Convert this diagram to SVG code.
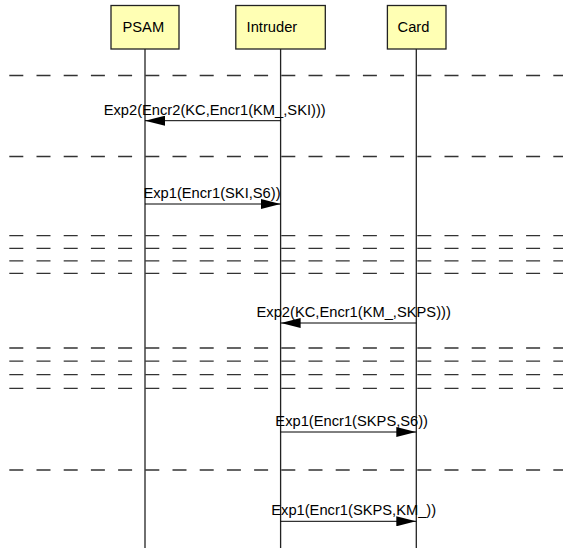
<svg xmlns="http://www.w3.org/2000/svg" width="563" height="548" viewBox="0 0 563 548">
<style>
.box{fill:#ffffb4;stroke:#222;stroke-width:1.3}
.life{stroke:#222;stroke-width:1.3;fill:none}
.dash{stroke:#333;stroke-width:1.3;stroke-dasharray:14 13.2;fill:none}
.msg{stroke:#000;stroke-width:1;fill:none;marker-end:url(#ah)}
text{font-family:"Liberation Sans",Arial,sans-serif;font-size:14.7px;fill:#000}
.lbl{text-anchor:middle}
</style>
<defs>
<marker id="ah" markerWidth="20" markerHeight="10" refX="20" refY="5" orient="auto" markerUnits="userSpaceOnUse">
<path d="M0,0 L20,5 L0,10 Z" fill="#000"/>
</marker>
</defs>
<rect width="563" height="548" fill="#fff"/>
<g id="separators">
<line class="dash" x1="9.3" y1="75.5" x2="563" y2="75.5"/>
<line class="dash" x1="9.3" y1="156.5" x2="563" y2="156.5"/>
<line class="dash" x1="9.3" y1="235.7" x2="563" y2="235.7"/>
<line class="dash" x1="9.3" y1="248.3" x2="563" y2="248.3"/>
<line class="dash" x1="9.3" y1="260.8" x2="563" y2="260.8"/>
<line class="dash" x1="9.3" y1="273.4" x2="563" y2="273.4"/>
<line class="dash" x1="9.3" y1="348" x2="563" y2="348"/>
<line class="dash" x1="9.3" y1="361.2" x2="563" y2="361.2"/>
<line class="dash" x1="9.3" y1="374.6" x2="563" y2="374.6"/>
<line class="dash" x1="9.3" y1="388.3" x2="563" y2="388.3"/>
<line class="dash" x1="9.3" y1="470" x2="563" y2="470"/>
</g>
<g id="PSAM">
<rect class="box" x="111" y="5.5" width="68" height="43.5"/>
<line class="life" x1="145" y1="49" x2="145" y2="548"/>
<text x="122.5" y="32">PSAM</text>
</g>
<g id="Intruder">
<rect class="box" x="235.8" y="5.5" width="89.5" height="43.5"/>
<line class="life" x1="280.6" y1="49" x2="280.6" y2="548"/>
<text x="246.6" y="32">Intruder</text>
</g>
<g id="Card">
<rect class="box" x="387.4" y="5.5" width="58.6" height="43.5"/>
<line class="life" x1="416.3" y1="49" x2="416.3" y2="548"/>
<text x="397.6" y="32">Card</text>
</g>
<g id="connectors">
<line class="msg" x1="280.6" y1="120.7" x2="145" y2="120.7"/>
<text class="lbl" x="214.7" y="115">Exp2(Encr2(KC,Encr1(KM_,SKI)))</text>
<line class="msg" x1="145" y1="204" x2="280.6" y2="204"/>
<text class="lbl" x="212" y="198.3">Exp1(Encr1(SKI,S6))</text>
<line class="msg" x1="416.3" y1="323" x2="280.6" y2="323"/>
<text class="lbl" x="353.7" y="317.3">Exp2(KC,Encr1(KM_,SKPS)))</text>
<line class="msg" x1="280.6" y1="432" x2="416.3" y2="432"/>
<text class="lbl" x="351.7" y="425.8">Exp1(Encr1(SKPS,S6))</text>
<line class="msg" x1="280.6" y1="521.3" x2="416.3" y2="521.3"/>
<text class="lbl" x="353.7" y="515.3">Exp1(Encr1(SKPS,KM_))</text>
</g>
</svg>
